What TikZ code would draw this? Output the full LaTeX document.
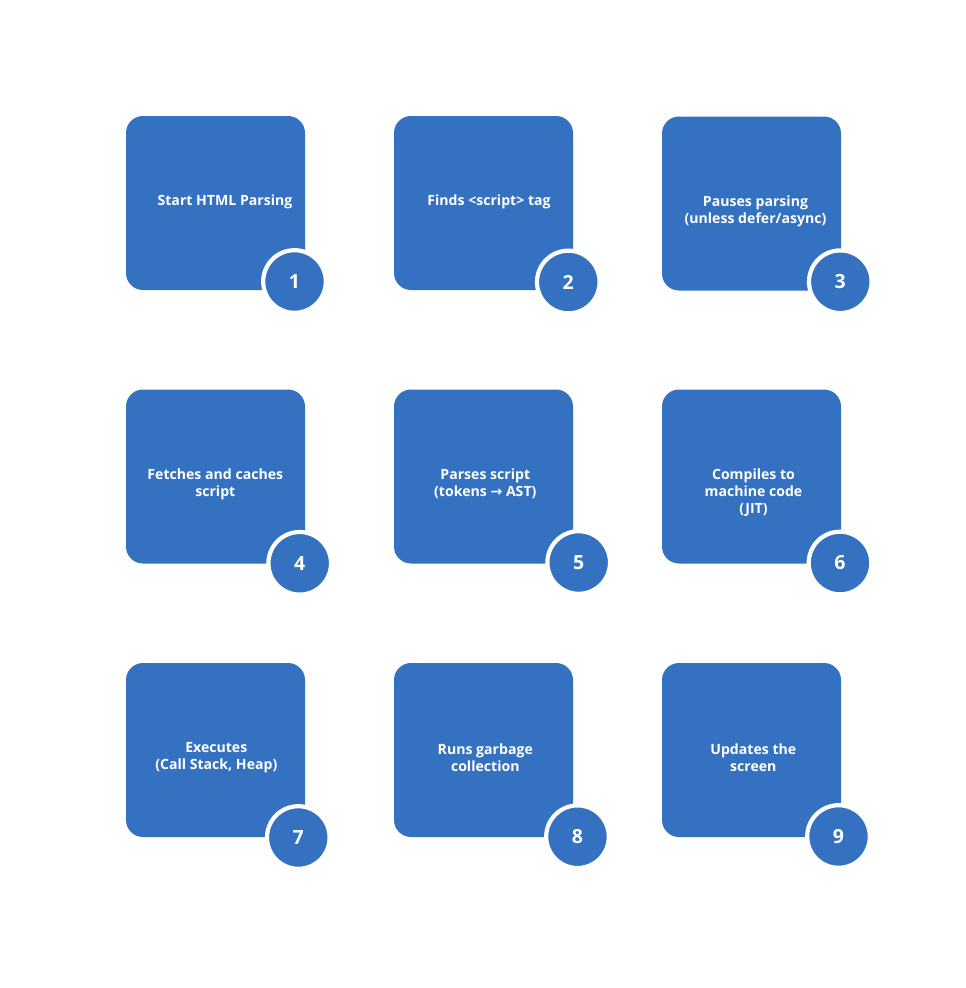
\documentclass[tikz,border=0pt]{standalone}
\usepackage{fontspec}
\setmainfont{Open Sans}
\newfontfamily\arrowfont{DejaVu Sans}
\definecolor{stepblue}{HTML}{3471C1}
\begin{document}
\begin{tikzpicture}[x=1pt,y=-1pt,
  stepbox/.style={rectangle, fill=stepblue, rounded corners=17pt, minimum width=179pt, minimum height=174pt, inner sep=0pt},
  steptext/.style={text=white, font=\fontsize{14.1}{17}\selectfont\bfseries, align=center, inner sep=0pt},
  stepnum/.style={circle, fill=stepblue, draw=white, line width=4.2pt, minimum size=62.6pt, inner sep=0pt, text=white, font=\fontsize{19.5}{22}\selectfont\bfseries}]
\useasboundingbox (0,0) rectangle (966,988);
% boxes
\node[stepbox] (b1) at (215.5,203) {};
\node[stepbox] (b2) at (483.5,203) {};
\node[stepbox] (b3) at (751.5,203.5) {};
\node[stepbox] (b4) at (215.5,476.5) {};
\node[stepbox] (b5) at (483.5,476.5) {};
\node[stepbox] (b6) at (751.5,476.5) {};
\node[stepbox] (b7) at (215.5,750) {};
\node[stepbox] (b8) at (483.5,750) {};
\node[stepbox] (b9) at (751.5,750) {};
% texts
\node[steptext] (t1) at (225,202) {Start HTML Parsing};
\node[steptext] (t2) at (489,202) {Finds <script> tag};
\node[steptext] (t3) at (755.5,211) {Pauses parsing\\(unless defer/async)};
\node[steptext] (t4) at (215.3,484) {Fetches and caches\\script};
\node[steptext] (t5) at (485.3,484) {Parses script\\(tokens {\arrowfont\bfseries →} AST)};
\node[steptext] (t6) at (753.5,492.5) {Compiles to\\machine code\\(JIT)};
\node[steptext] (t7) at (216.3,757.5) {Executes\\(Call Stack, Heap)};
\node[steptext] (t8) at (485.3,757.5) {Runs garbage\\collection};
\node[steptext] (t9) at (753.3,757.5) {Updates the\\screen};
% numbers
\node[stepnum] (n1) at (294.5,281.5) {1};
\node[stepnum] (n2) at (568.3,282) {2};
\node[stepnum] (n3) at (840.3,281.7) {3};
\node[stepnum] (n4) at (299.7,563.3) {4};
\node[stepnum] (n5) at (578.7,562.5) {5};
\node[stepnum] (n6) at (840,563) {6};
\node[stepnum] (n7) at (298.3,837.5) {7};
\node[stepnum] (n8) at (577.5,836.7) {8};
\node[stepnum] (n9) at (838.5,836.5) {9};
\end{tikzpicture}
\end{document}
